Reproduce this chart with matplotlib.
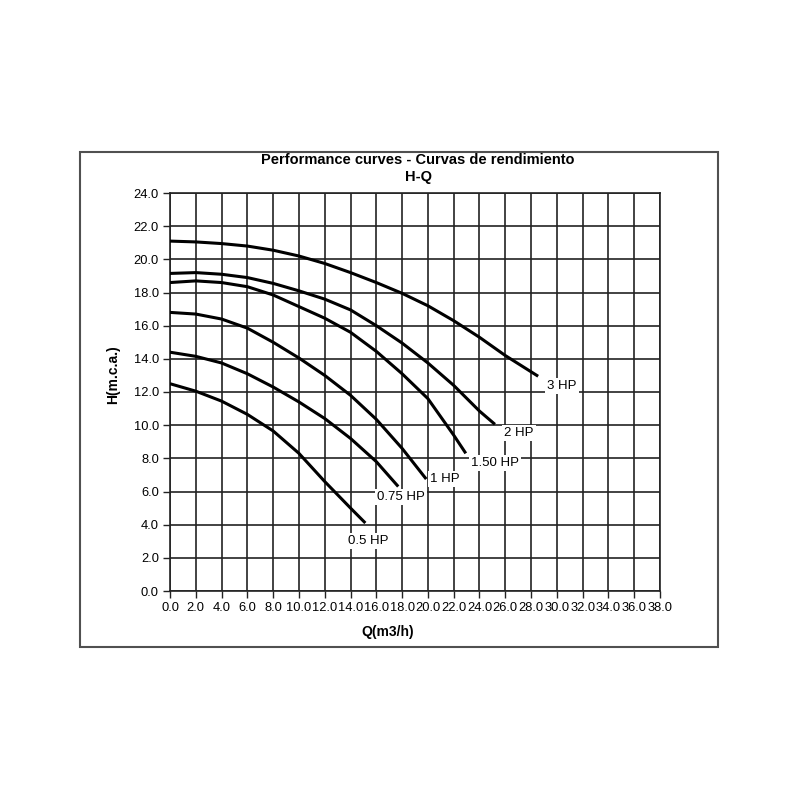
import matplotlib
matplotlib.use("Agg")
import matplotlib.pyplot as plt
from matplotlib.patches import Rectangle
import numpy as np

plt.rcParams['font.family'] = ['Liberation Sans', 'DejaVu Sans']

# pump curves: Q (m3/h) -> H (m.c.a.)
q_3hp = [0, 2, 4, 6, 8, 10, 12, 14, 16, 18, 20, 22, 24, 26, 28.55]
h_3hp = [21.1, 21.05, 20.95, 20.8, 20.55, 20.2, 19.75, 19.2, 18.6, 17.95, 17.2, 16.3, 15.3, 14.2, 12.95]

q_2hp = [0, 2, 4, 6, 8, 10, 12, 14, 16, 18, 20, 22, 24, 25.2]
h_2hp = [19.15, 19.2, 19.1, 18.9, 18.55, 18.1, 17.6, 16.95, 16.0, 14.95, 13.75, 12.4, 10.85, 10.05]

q_15hp = [0, 2, 4, 6, 8, 10, 12, 14, 16, 18, 20, 22, 22.94]
h_15hp = [18.6, 18.7, 18.6, 18.35, 17.85, 17.15, 16.45, 15.6, 14.45, 13.1, 11.6, 9.4, 8.3]

q_1hp = [0, 2, 4, 6, 8, 10, 12, 14, 16, 18, 19.87]
h_1hp = [16.8, 16.7, 16.4, 15.85, 15.0, 14.05, 13.0, 11.8, 10.35, 8.6, 6.75]

q_075hp = [0, 2, 4, 6, 8, 10, 12, 14, 16, 17.7]
h_075hp = [14.4, 14.15, 13.75, 13.1, 12.3, 11.4, 10.4, 9.2, 7.8, 6.3]

q_05hp = [0, 2, 4, 6, 8, 10, 12, 14, 15.15]
h_05hp = [12.5, 12.05, 11.45, 10.65, 9.65, 8.3, 6.6, 5.0, 4.1]

labels = ["3 HP", "2 HP", "1.50 HP", "1 HP", "0.75 HP", "0.5 HP"]
# label offset from the curve end, in pixels
offsets = [(24, -10), (24, -9), (29, -10), (19, 0), (3, -10), (3, -18)]

x_ticks = np.arange(0, 38.1, 2)
y_ticks = np.arange(0, 24.1, 2)

fig = plt.figure(figsize=(8, 8), dpi=100)
fig.patch.set_facecolor('white')

# chart frame
fig.patches.append(Rectangle((80/800, 1-647/800), 638/800, 495/800,
                             transform=fig.transFigure, fill=False,
                             edgecolor='#505050', lw=1.5))

ax = fig.add_axes([170/800, 1-591/800, 490/800, 398/800])

curves = [(q_3hp, h_3hp), (q_2hp, h_2hp), (q_15hp, h_15hp),
          (q_1hp, h_1hp), (q_075hp, h_075hp), (q_05hp, h_05hp)]

for (q, h), lab, off in zip(curves, labels, offsets):
    ax.plot(q, h, color='black', lw=2.2, solid_capstyle='butt',
            solid_joinstyle='round', zorder=3)
    ax.annotate(lab, xy=(q[-1], h[-1]), xytext=off, textcoords='offset pixels',
                ha='center', va='center', fontsize=9.5, zorder=4,
                bbox=dict(boxstyle='square,pad=0.15', fc='white', ec='none'))

ax.set_xlim(0, 38)
ax.set_ylim(0, 24)
ax.set_xticks(x_ticks)
ax.set_yticks(y_ticks)
ax.set_xticklabels([f"{v:.1f}" for v in x_ticks], fontsize=9.3)
ax.set_yticklabels([f"{v:.1f}" for v in y_ticks], fontsize=9.3)
ax.grid(True, color='#222222', lw=1.2)
ax.set_axisbelow(True)
ax.tick_params(direction='out', length=5, width=1, color='#222222', pad=3)
for s in ax.spines.values():
    s.set_color('#222222')
    s.set_linewidth(1.2)

fig.text(418/800, 1-160/800, "Performance curves - Curvas de rendimiento",
         ha='center', va='center', fontsize=10.5, fontweight='bold')
fig.text(418/800, 1-177/800, "H-Q", ha='center', va='center',
         fontsize=10.5, fontweight='bold')
fig.text(388/800, 1-632/800, "Q(m3/h)", ha='center', va='center',
         fontsize=10, fontweight='bold')
fig.text(113/800, 1-375/800, "H(m.c.a.)", ha='center', va='center',
         fontsize=10, fontweight='bold', rotation=90)

fig.savefig("out.png", dpi=100)
